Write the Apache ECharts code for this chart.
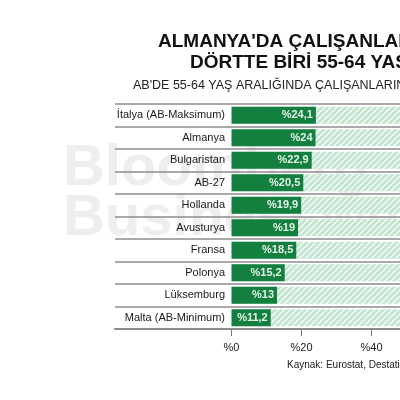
<!DOCTYPE html>
<html>
<head>
<meta charset="utf-8">
<script src="https://cdn.jsdelivr.net/npm/echarts@6/dist/echarts.min.js"></script>
<style>
    html, body { margin: 0; padding: 0; background: #fff; }
    #chart { width: 400px; height: 400px; }
</style>
</head>
<body>
<div id="chart"></div>
<script>
    var countries = ['İtalya (AB-Maksimum)', 'Almanya', 'Bulgaristan', 'AB-27', 'Hollanda',
        'Avusturya', 'Fransa', 'Polonya', 'Lüksemburg', 'Malta (AB-Minimum)'];
    var shares = [24.1, 24, 22.9, 20.5, 19.9, 19, 18.5, 15.2, 13, 11.2];
    var fullScale = [100, 100, 100, 100, 100, 100, 100, 100, 100, 100];
    var tickValues = [0, 20, 40, 60, 80, 100];

    // hatched background for the "rest up to 100" bars
    function hatch() {
        var c = document.createElement('canvas');
        c.width = 6; c.height = 6;
        var ctx = c.getContext('2d');
        ctx.fillStyle = '#c4e4d2';
        ctx.fillRect(0, 0, 6, 6);
        ctx.strokeStyle = 'rgba(255,255,255,0.9)';
        ctx.lineWidth = 1.4;
        for (var k = -6; k <= 12; k += 6) {
            ctx.beginPath();
            ctx.moveTo(k, 6);
            ctx.lineTo(k + 6, 0);
            ctx.stroke();
        }
        return c;
    }

    function pct(v) {
        return '%' + String(v).replace('.', ',');
    }

    var chart = echarts.init(document.getElementById('chart'));

    var option = {
        animation: false,
        textStyle: { fontFamily: 'Liberation Sans, Arial, sans-serif' },
        graphic: [
            { type: 'text', left: 63, top: 140, z: -10, silent: true,
              style: { text: 'Bloomberg', fill: '#eeeeee', font: 'bold 58px Liberation Sans' } },
            { type: 'text', left: 63, top: 190, z: -10, silent: true,
              style: { text: 'Businessweek', fill: '#eeeeee', font: 'bold 58px Liberation Sans' } },
            { type: 'text', left: 158, top: 32,
              style: { text: "ALMANYA'DA ÇALIŞANLARIN", fill: '#111', font: 'bold 19px Liberation Sans' } },
            { type: 'text', left: 190, top: 53,
              style: { text: 'DÖRTTE BİRİ 55-64 YAŞINDA', fill: '#111', font: 'bold 19px Liberation Sans' } },
            { type: 'text', left: 133, top: 79,
              style: { text: "AB'DE 55-64 YAŞ ARALIĞINDA ÇALIŞANLARIN ORANI", fill: '#222', font: '12.5px Liberation Sans' } },
            { type: 'text', left: 287, top: 360,
              style: { text: 'Kaynak: Eurostat, Destatis', fill: '#222', font: '10px Liberation Sans' } }
        ],
        grid: { left: 115, width: 466.5, top: 104, height: 225, containLabel: false, outerBoundsMode: 'none' },
        xAxis: {
            type: 'value',
            min: -33.3,
            max: 100,
            splitLine: { show: false },
            axisLine: { show: true, lineStyle: { color: '#8c8c8c', width: 2 } },
            axisTick: { show: true, customValues: tickValues, length: 7, inside: false,
                lineStyle: { color: '#777', width: 1 } },
            axisLabel: { customValues: tickValues, formatter: function (v) { return '%' + v; },
                color: '#222', fontSize: 11, margin: 13 }
        },
        yAxis: {
            type: 'category',
            data: countries,
            inverse: true,
            offset: -111,
            axisLine: { show: false },
            axisTick: { show: false },
            axisLabel: { color: '#1a1a1a', fontSize: 11, margin: 1 },
            splitLine: { show: true, interval: 0, lineStyle: { color: '#8c8c8c', width: 1.5 } }
        },
        series: [
            {
                type: 'bar',
                data: fullScale,
                barWidth: 17,
                barGap: '-100%',
                silent: true,
                itemStyle: { color: { image: hatch(), repeat: 'repeat' } }
            },
            {
                type: 'bar',
                data: shares,
                barWidth: 17,
                barGap: '-100%',
                itemStyle: { color: '#13803f' },
                label: {
                    show: true,
                    position: 'insideRight',
                    distance: 3,
                    color: '#e4f3e9',
                    fontWeight: 'bold',
                    fontSize: 11,
                    formatter: function (p) { return pct(p.value); }
                }
            }
        ]
    };

    chart.setOption(option);
</script>
</body>
</html>
